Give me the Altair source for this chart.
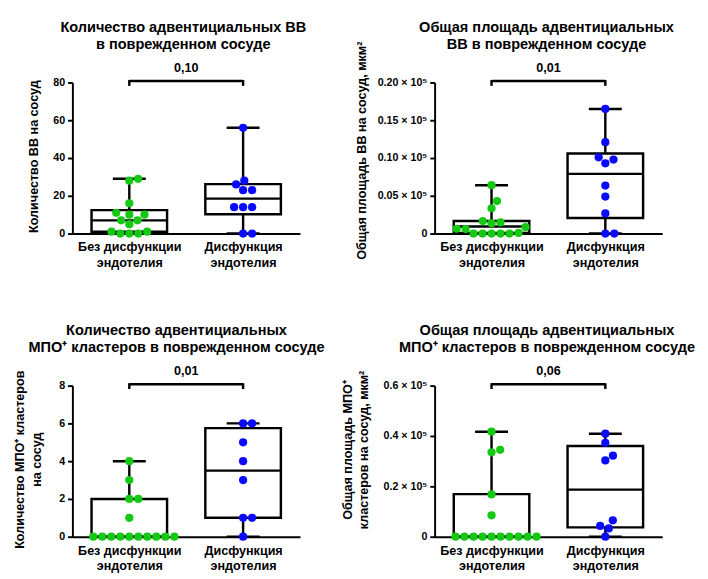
import math
import json
import altair as alt
import pandas as pd

# ---------------- data ----------------
CATEGORIES = [["Без дисфункции", "эндотелия"], ["Дисфункция", "эндотелия"]]
GROUP_KEYS = ["no_dysfunction", "dysfunction"]
GROUP_COLORS = ["#14c814", "#0a0aff"]

# Panel 1: number of adventitial vessels
p1_title = ["Количество адвентициальных ВВ", "в поврежденном сосуде"]
p1_ytitle = "Количество ВВ на сосуд"
p1_green = [29, 28, 16, 11, 10, 10, 7, 7, 5, 1, 1, 0, 0, 0]
p1_blue = [56, 28, 26, 23, 23, 14, 14, 14, 0, 0]
p1_box_green = [0, 1, 7, 12.4, 29]        # min, q1, median, q3, max
p1_box_blue = [0, 10.2, 18.5, 26.2, 56]
p1_ticks = [0, 20, 40, 60, 80]
p1_p = "0,10"

# Panel 2: total area of adventitial vessels (µm²)
p2_title = ["Общая площадь адвентициальных", "ВВ в поврежденном сосуде"]
p2_ytitle = "Общая площадь ВВ на сосуд, мкм²"
p2_green = [6400, 4300, 3350, 1660, 1480, 1360, 840, 640, 590, 90, 0, 0, 0, 0, 0]
p2_blue = [16500, 12100, 10100, 9800, 9300, 6350, 4900, 2660, 0, 0]
p2_box_green = [0, 80, 930, 1660, 6400]
p2_box_blue = [0, 2060, 7900, 10600, 16500]
p2_ticks = [0, 5000, 10000, 15000, 20000]
p2_p = "0,01"

# Panel 3: number of MPO+ clusters
p3_title = ["Количество адвентициальных", "МПО⁺ кластеров в поврежденном сосуде"]
p3_ytitle = ["Количество МПО⁺ кластеров", "на сосуд"]
p3_green = [4, 3, 2, 2, 1, 0, 0, 0, 0, 0, 0, 0, 0, 0, 0]
p3_blue = [6, 6, 5, 4, 3, 1, 1, 0]
p3_box_green = [0, 0, 0, 2, 4]
p3_box_blue = [0, 1, 3.5, 5.75, 6]
p3_ticks = [0, 2, 4, 6, 8]
p3_p = "0,01"

# Panel 4: total area of MPO+ clusters (µm²)
p4_title = ["Общая площадь адвентициальных", "МПО⁺ кластеров в поврежденном сосуде"]
p4_ytitle = ["Общая площадь МПО⁺", "кластеров на сосуд, мкм²"]
p4_green = [41700, 34500, 33500, 16800, 8500, 0, 0, 0, 0, 0, 0, 0, 0, 0, 0]
p4_blue = [40900, 37300, 32200, 30300, 6500, 4300, 3300, 0]
p4_box_green = [0, 0, 0, 16900, 41700]
p4_box_blue = [0, 3700, 18700, 36000, 40900]
p4_ticks = [0, 20000, 40000, 60000]
p4_p = "0,06"

# ---------------- layout / style constants ----------------
W, H = 235, 156
XPX = W / 4.0          # pixels per x unit (categories at x = 1 and 3)
BOX_HALF = 39 / XPX
CAP_HALF = 17 / XPX
DOT = 9.3              # dot diameter in px, used for the swarm layout
LW = 2.5
FONT = "Liberation Sans"


def swarm(values, px_per_unit, d=DOT):
    """Simple beeswarm: horizontal pixel offsets so that dots don't overlap."""
    order = sorted(range(len(values)), key=lambda i: values[i])
    placed = []
    offs = [0.0] * len(values)
    for i in order:
        y = values[i] * px_per_unit
        cands = [0.0]
        for (px, py) in placed:
            dy = abs(y - py)
            if dy < d:
                dx = math.sqrt(d * d - dy * dy)
                cands += [px + dx, px - dx]
        cands.sort(key=lambda c: (round(abs(c), 6), -c))
        chosen = cands[-1]
        for c in cands:
            if all((c - px) ** 2 + (y - py) ** 2 >= d * d - 1e-6 for px, py in placed):
                chosen = c
                break
        placed.append((chosen, y))
        offs[i] = chosen
    return offs


x_label_expr = "datum.value == 1 ? {} : {}".format(
    json.dumps(CATEGORIES[0], ensure_ascii=False), json.dumps(CATEGORIES[1], ensure_ascii=False)
)


def panel(title, ytitle, green, blue, box_g, box_b, ticks, label_expr, pval,
          title_dx, ytx, yty):
    ymax = ticks[-1]
    ppu = H / ymax
    rows = []
    for gi, vals in enumerate([green, blue]):
        offs = swarm(vals, ppu)
        for v, o in zip(vals, offs):
            rows.append({"px": 2 * gi + 1 + o / XPX, "v": v, "g": GROUP_KEYS[gi]})
    pts = pd.DataFrame(rows)
    boxes = pd.DataFrame([
        {"xc": 2 * gi + 1, "mn": b[0], "q1": b[1], "md": b[2], "q3": b[3], "mx": b[4]}
        for gi, b in enumerate([box_g, box_b])
    ])
    bracket = pd.DataFrame([{"a": 1, "b": 3, "m": 2, "p": pval}])
    titles = pd.DataFrame([{"t1": title[0], "t2": title[1]}])

    xscale = alt.Scale(domain=[0, 4], nice=False, zero=False)
    xaxis = alt.Axis(title=None, values=[1, 3], labelExpr=x_label_expr, ticks=False,
                     grid=False, domainWidth=2, labelFontSize=13, labelLineHeight=16,
                     labelPadding=8, labelFontWeight="bold")
    yscale = alt.Scale(domain=[0, ymax], nice=False, zero=True)
    yaxis_kw = dict(title=ytitle, values=ticks, grid=False, domainWidth=2, tickWidth=2,
                    tickSize=5, labelFontSize=11, labelPadding=3, titleFontSize=13,
                    titleLineHeight=17, titleX=ytx, titleY=yty, titleBaseline="middle")
    if label_expr:
        yaxis_kw["labelExpr"] = label_expr
    yaxis = alt.Axis(**yaxis_kw)

    def X(f):
        return alt.X(f, scale=xscale, axis=xaxis)

    def Y(f):
        return alt.Y(f, scale=yscale, axis=yaxis)

    base_b = alt.Chart(boxes)
    whisker = base_b.mark_rule(color="black", strokeWidth=LW).encode(
        x=X("xc:Q"), y=Y("mn:Q"), y2="mx:Q")
    caps = base_b.transform_fold(["mn", "mx"], as_=["k", "val"]).transform_calculate(
        l=f"datum.xc - {CAP_HALF}", r=f"datum.xc + {CAP_HALF}"
    ).mark_rule(color="black", strokeWidth=LW).encode(x=X("l:Q"), x2="r:Q", y=Y("val:Q"))
    box = base_b.transform_calculate(
        l=f"datum.xc - {BOX_HALF}", r=f"datum.xc + {BOX_HALF}"
    ).mark_rect(fill="white", stroke="black", strokeWidth=LW).encode(
        x=X("l:Q"), x2="r:Q", y=Y("q1:Q"), y2="q3:Q")
    median = base_b.transform_calculate(
        l=f"datum.xc - {BOX_HALF}", r=f"datum.xc + {BOX_HALF}"
    ).mark_rule(color="black", strokeWidth=LW).encode(x=X("l:Q"), x2="r:Q", y=Y("md:Q"))
    dots = alt.Chart(pts).mark_circle(size=72, opacity=1).encode(
        x=X("px:Q"), y=Y("v:Q"),
        color=alt.Color("g:N", scale=alt.Scale(domain=GROUP_KEYS, range=GROUP_COLORS),
                        legend=None))
    br_h = alt.Chart(bracket).mark_rule(color="black", strokeWidth=LW).encode(
        x=X("a:Q"), x2="b:Q", y=alt.value(-1.5))
    br_v = base_b.mark_rule(color="black", strokeWidth=LW).encode(
        x=X("xc:Q"), y=alt.value(-2.5), y2=alt.value(3.5))
    ptxt = alt.Chart(bracket).mark_text(font=FONT, fontSize=13, fontWeight="bold",
                                        baseline="middle", color="black").encode(
        x=X("m:Q"), y=alt.value(-15), text="p:N")
    tstyle = dict(font=FONT, fontSize=15, fontWeight="bold", baseline="middle",
                  align="center", color="black")
    tl1 = alt.Chart(titles).mark_text(**tstyle).encode(
        x=alt.value(W / 2 + title_dx), y=alt.value(-57.5), text="t1:N")
    tl2 = alt.Chart(titles).mark_text(**tstyle).encode(
        x=alt.value(W / 2 + title_dx), y=alt.value(-39.5), text="t2:N")

    return alt.layer(whisker, caps, box, median, dots, br_h, br_v, ptxt, tl1, tl2).properties(
        width=W, height=H,
    )


exp2 = "datum.value == 0 ? '0' : format(datum.value / 100000, '.2f') + ' × 10⁵'"
exp4 = "datum.value == 0 ? '0' : format(datum.value / 100000, '.1f') + ' × 10⁵'"

c1 = panel(p1_title, p1_ytitle, p1_green, p1_blue, p1_box_green, p1_box_blue, p1_ticks,
           None, p1_p, -3, -40, 76)
c2 = panel(p2_title, p2_ytitle, p2_green, p2_blue, p2_box_green, p2_box_blue, p2_ticks,
           exp2, p2_p, -2, -75, 70)
c3 = panel(p3_title, p3_ytitle, p3_green, p3_blue, p3_box_green, p3_box_blue, p3_ticks,
           None, p3_p, -10, -54, 76)
c4 = panel(p4_title, p4_ytitle, p4_green, p4_blue, p4_box_green, p4_box_blue, p4_ticks,
           exp4, p4_p, -1.5, -90, 66)

chart = alt.concat(c1, c2, c3, c4, columns=2, spacing={"row": 157, "column": 139},
                   bounds="flush").properties(
    padding={"left": 5.5, "top": 2.5, "right": 5, "bottom": 5}
).configure_view(stroke=None).configure_axis(
    labelFont=FONT, labelFontWeight="bold", labelColor="black",
    titleFont=FONT, titleFontWeight="bold", titleColor="black",
    domainColor="black", tickColor="black",
)

chart.save("out.html", embed_options={"renderer": "svg", "actions": False})
